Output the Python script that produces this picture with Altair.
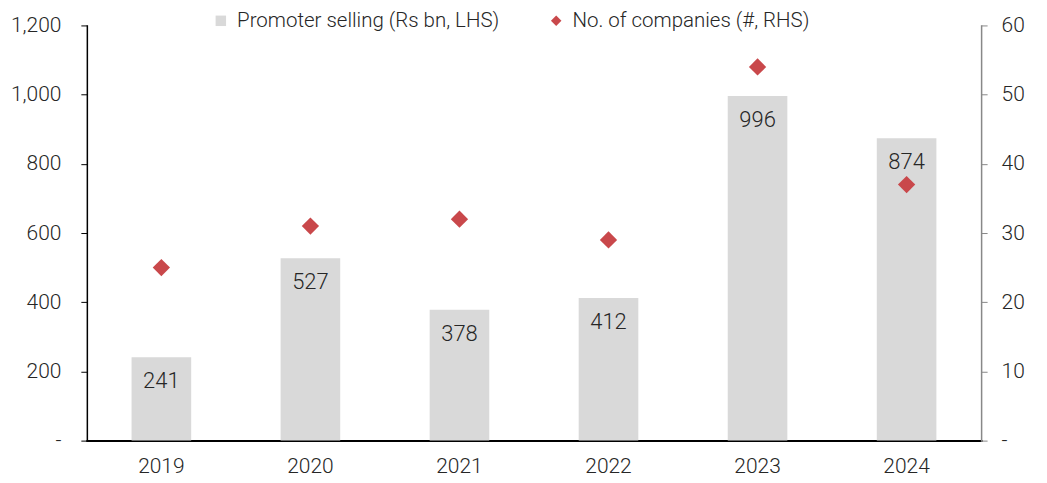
import altair as alt
import pandas as pd

years = ["2019", "2020", "2021", "2022", "2023", "2024"]
selling = [241, 527, 378, 412, 996, 874]
companies = [25, 31, 32, 29, 54, 37]

S1 = "Promoter selling (Rs bn, LHS)"
S2 = "No. of companies (#, RHS)"

df = pd.DataFrame({"year": years, "selling": selling, "companies": companies})

FONT = "Roboto"
TXT = "#262626"
FS = 21

x = alt.X("year:N", title=None, scale=alt.Scale(paddingInner=0.6, paddingOuter=0.3),
          axis=alt.Axis(labelAngle=0, ticks=False, domainColor="black", domainWidth=2,
                        labelFontSize=FS, labelPadding=15, labelColor=TXT, labelFont=FONT,
                        labelFontWeight=300))

yleft = alt.Y("selling:Q", title=None, scale=alt.Scale(domain=[0, 1200]),
              axis=alt.Axis(values=[0, 200, 400, 600, 800, 1000, 1200], grid=False,
                            labelExpr="datum.value == 0 ? '-' : format(datum.value, ',')",
                            domainColor="black", domainWidth=1.5, tickColor="black", tickSize=6,
                            labelFontSize=FS, labelColor=TXT, labelFont=FONT, labelFontWeight=300,
                            labelPadding=20))

color_scale = alt.Scale(domain=[S1, S2], range=["#d9d9d9", "#c9484b"])
shape_scale = alt.Scale(domain=[S1, S2], range=["square", "diamond"])

leg = alt.Legend(title=None, orient="none", direction="horizontal",
                 legendX=124, legendY=-15, labelFontSize=20.5, labelLimit=1000,
                 labelFont=FONT, labelFontWeight=300, labelColor=TXT,
                 symbolSize=110, symbolStrokeWidth=0, labelOffset=6,
                 columnPadding=46, symbolOpacity=1)

bars = alt.Chart(df).transform_calculate(series=f"'{S1}'").mark_bar().encode(
    x=x,
    y=yleft,
    color=alt.Color("series:N", scale=color_scale, legend=leg),
)

labels = alt.Chart(df).mark_text(dy=24, fontSize=22, font=FONT, fontWeight=300, color=TXT,
                                 baseline="middle").encode(
    x=x,
    y=yleft,
    text=alt.Text("selling:Q"),
)

left = alt.layer(bars, labels)

points = alt.Chart(df).transform_calculate(series=f"'{S2}'").mark_point(
    filled=True, opacity=1, size=300).encode(
    x=x,
    y=alt.Y("companies:Q", title=None, scale=alt.Scale(domain=[0, 60]),
            axis=alt.Axis(orient="right", values=[0, 10, 20, 30, 40, 50, 60], grid=False,
                          labelExpr="datum.value == 0 ? '-' : format(datum.value, ',')",
                          domainColor="#888888", domainWidth=1.5, tickColor="#888888", tickSize=6,
                          labelFontSize=FS, labelColor=TXT, labelFont=FONT, labelFontWeight=300,
                          labelPadding=14)),
    color=alt.Color("series:N", scale=color_scale, legend=leg),
    shape=alt.Shape("series:N", scale=shape_scale, legend=leg),
)

chart = alt.layer(left, points).resolve_scale(y="independent").properties(
    width=896, height=416,
    autosize=alt.AutoSizeParams(type="none"),
    padding={"left": 79, "top": 17, "right": 58, "bottom": 42},
).configure_view(stroke=None).configure_axis(domainCap="square")

chart.save("out.html", embed_options={"renderer": "svg", "actions": False})
